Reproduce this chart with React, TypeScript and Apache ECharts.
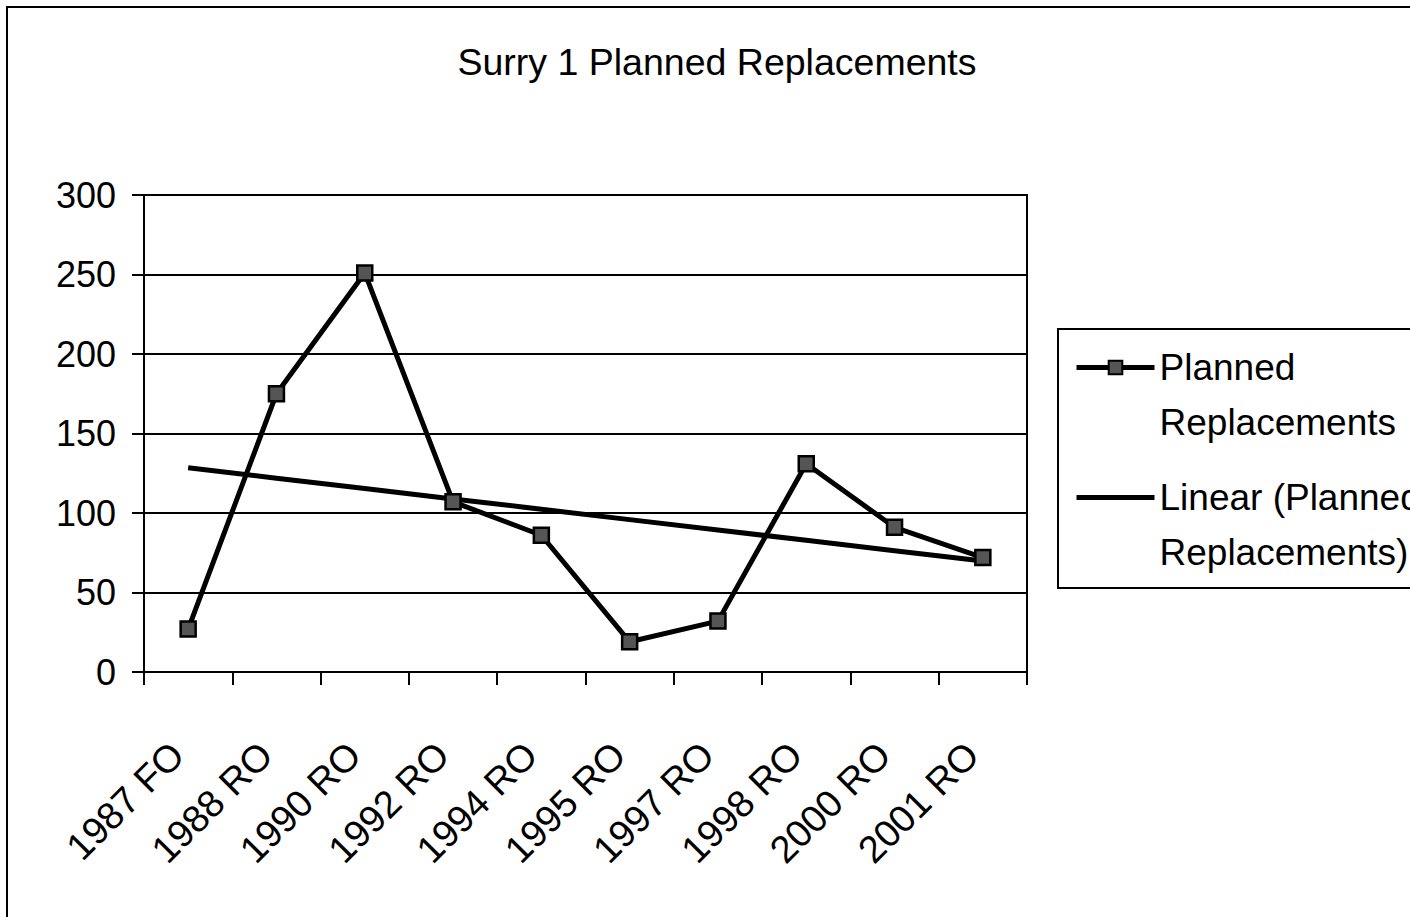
import React, { useEffect, useRef } from "react";
import * as echarts from "echarts";

const categories = ["1987 FO", "1988 RO", "1990 RO", "1992 RO", "1994 RO", "1995 RO", "1997 RO", "1998 RO", "2000 RO", "2001 RO"];
const plannedReplacements = [27, 175, 251, 107, 86, 19, 32, 131, 91, 72];
const yTicks = [0, 50, 100, 150, 200, 250, 300];
const titleText = "Surry 1 Planned Replacements";
const seriesName = "Planned Replacements";
const trendName = "Linear (Planned Replacements)";

function linearTrend(values: number[]): number[] {
  const n = values.length;
  const mx = (n - 1) / 2;
  const my = values.reduce((a, b) => a + b, 0) / n;
  let sxy = 0;
  let sxx = 0;
  values.forEach((v, i) => {
    sxy += (i - mx) * (v - my);
    sxx += (i - mx) * (i - mx);
  });
  const slope = sxy / sxx;
  return values.map((_, i) => my + slope * (i - mx));
}

const FONT = "'Liberation Sans', Arial, sans-serif";

export default function App() {
  const ref = useRef<HTMLDivElement>(null);
  useEffect(() => {
    if (!ref.current) return;
    const chart = echarts.init(ref.current, undefined, { renderer: "svg" });
    const trend = linearTrend(plannedReplacements);
    chart.setOption({
      animation: false,
      backgroundColor: "#fff",
      textStyle: { fontFamily: FONT, color: "#000" },
      title: {
        text: titleText,
        left: 712,
        top: 38,
        textAlign: "center",
        textStyle: { fontFamily: FONT, fontSize: 37.5, fontWeight: "normal", color: "#000" },
      },
      graphic: [
        {
          type: "rect",
          shape: { x: 7, y: 7, width: 1420, height: 930 },
          style: { fill: "none", stroke: "#000", lineWidth: 2 },
          silent: true,
        },
        {
          type: "rect",
          shape: { x: 1058, y: 329, width: 380, height: 259 },
          style: { fill: "#fff", stroke: "#000", lineWidth: 2 },
          silent: true,
          z: -1,
        },
      ],
      legend: {
        orient: "vertical",
        left: 1069,
        top: 280,
        itemWidth: 78,
        itemHeight: 17,
        itemGap: -35,
        data: [
          { name: seriesName },
          { name: trendName, itemStyle: { color: "rgba(0,0,0,0)", borderWidth: 0, opacity: 0 } },
        ],
        lineStyle: { width: 5, color: "#000" },
        formatter: (name: string) =>
          name === seriesName ? "\nPlanned\nReplacements" : "\nLinear (Planned\nReplacements)",
        textStyle: {
          fontFamily: FONT,
          fontSize: 37,
          lineHeight: 55,
          color: "#000",
        },
      },
      grid: {
        left: 144,
        right: 383,
        top: 195,
        bottom: 245,
        show: true,
        borderColor: "#000",
        borderWidth: 2,
        backgroundColor: "#fff",
      },
      xAxis: {
        type: "category",
        data: categories,
        boundaryGap: true,
        axisLine: { lineStyle: { color: "#000", width: 2 } },
        axisTick: { show: true, interval: 0, length: 13, lineStyle: { color: "#000", width: 2 } },
        axisLabel: {
          interval: 0,
          rotate: 45,
          margin: 66,
          padding: [0, 15, 0, 0],
          fontFamily: FONT,
          fontSize: 38,
          color: "#000",
        },
      },
      yAxis: {
        type: "value",
        min: yTicks[0],
        max: yTicks[yTicks.length - 1],
        interval: 50,
        axisLine: { show: true, lineStyle: { color: "#000", width: 2 } },
        axisTick: { show: true, length: 12, lineStyle: { color: "#000", width: 2 } },
        splitLine: { show: true, lineStyle: { color: "#000", width: 2 } },
        axisLabel: { fontFamily: FONT, fontSize: 36, color: "#000", margin: 28 },
      },
      series: [
        {
          name: seriesName,
          type: "line",
          data: plannedReplacements,
          symbol: "rect",
          symbolSize: 15,
          lineStyle: { color: "#000", width: 5 },
          itemStyle: { color: "#555", borderColor: "#000", borderWidth: 2.5 },
          z: 3,
        },
        {
          name: trendName,
          type: "line",
          data: trend,
          symbol: "none",
          lineStyle: { color: "#000", width: 5 },
          itemStyle: { color: "#000" },
          z: 2,
        },
      ],
    });
    return () => chart.dispose();
  }, []);
  return (
    <div
      ref={ref}
      style={{ position: "fixed", left: 0, top: 0, width: 1410, height: 917 }}
    />
  );
}
